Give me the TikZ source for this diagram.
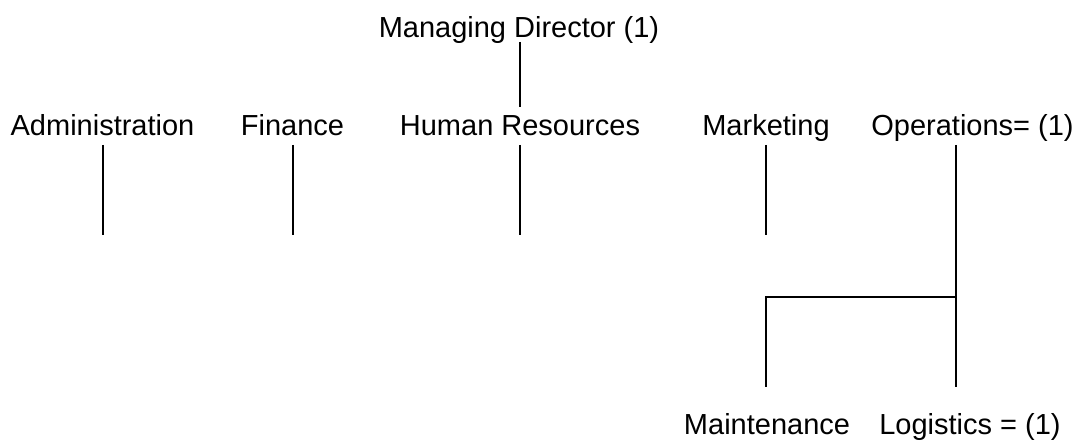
\documentclass[tikz,border=0pt]{standalone}
\usepackage{fontspec}
\setmainfont{Liberation Sans}
\begin{document}
\begin{tikzpicture}[x=1pt,y=-1pt,
  lbl/.style={anchor=base, inner sep=0pt, font=\fontsize{29}{34}\selectfont},
  conn/.style={line width=1.3pt, line cap=butt}]
\useasboundingbox (0,0) rectangle (1080,443);
% labels
\node[lbl] (md)  at (519,37.5) {Managing Director (1)};
\node[lbl] (adm) at (102.5,136) {Administration};
\node[lbl] (fin) at (292.5,136) {Finance};
\node[lbl] (hr)  at (520,136) {Human Resources};
\node[lbl] (mkt) at (766,136) {Marketing};
\node[lbl] (ops) at (972.5,136) {Operations= (1)};
\node[lbl] (mnt) at (767,435) {Maintenance};
\node[lbl] (log) at (970,435) {Logistics = (1)};
% connector ends
\coordinate (mdB)  at (520,42);
\coordinate (hrT)  at (520,107);
\coordinate (admT) at (103,145);
\coordinate (admB) at (103,235);
\coordinate (finT) at (293,145);
\coordinate (finB) at (293,235);
\coordinate (hrB1) at (520,145);
\coordinate (hrB2) at (520,235);
\coordinate (mktT) at (766,145);
\coordinate (mktB) at (766,235);
\coordinate (opsT) at (956,145);
\coordinate (opsJ) at (956,297);
\coordinate (logT) at (956,387);
\coordinate (mntJ) at (766,297);
\coordinate (mntT) at (766,387);
% connectors
\draw[conn] (mdB) -- (hrT);
\draw[conn] (admT) -- (admB);
\draw[conn] (finT) -- (finB);
\draw[conn] (hrB1) -- (hrB2);
\draw[conn] (mktT) -- (mktB);
\draw[conn] (opsT) -- (opsJ) -- (logT);
\draw[conn] (opsJ) -- (mntJ) -- (mntT);
\end{tikzpicture}
\end{document}
